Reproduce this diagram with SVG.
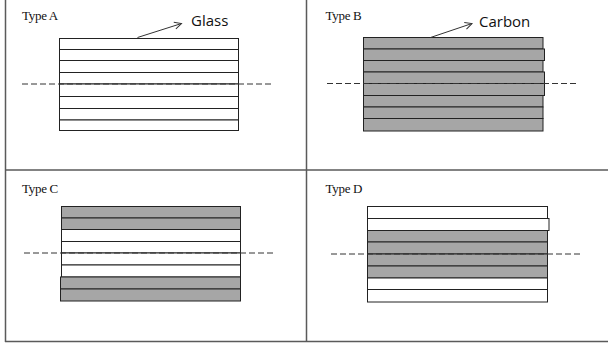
<svg xmlns="http://www.w3.org/2000/svg" width="608" height="344" viewBox="0 0 608 344">
<defs>
<marker id="ah" markerWidth="10" markerHeight="10" refX="8" refY="5" orient="auto" markerUnits="userSpaceOnUse">
<path d="M1,1.5 L8,5 L1,8.5" fill="none" stroke="#333" stroke-width="1"/>
</marker>
</defs>
<style>
.frame{stroke:#5a5a5a;stroke-width:1.5;fill:none}
.w{fill:#fff;stroke:#222;stroke-width:1}
.g{fill:#a6a6a6;stroke:#222;stroke-width:1}
.dash{stroke:#333;stroke-width:1;stroke-dasharray:6,3;fill:none}
.title{font-family:"Liberation Serif",serif;font-size:13px;letter-spacing:-0.3px;fill:#111}
.lbl{font-family:"Open Sans","Liberation Sans",sans-serif;font-size:15px;fill:#111}
.arr{stroke:#333;stroke-width:1;fill:none}
</style>
<g id="frame">
<line class="frame" x1="5.5" y1="0" x2="5.5" y2="342"/>
<line class="frame" x1="5" y1="341.5" x2="608" y2="341.5"/>
<line class="frame" x1="306.5" y1="0" x2="306.5" y2="342"/>
<line class="frame" x1="5" y1="170" x2="608" y2="170"/>
</g>
<g id="typeA">
<text class="title" x="22" y="20">Type A</text>
<rect class="w" x="59.5" y="38.5" width="179" height="11"/>
<rect class="w" x="59.5" y="49.5" width="179" height="11"/>
<rect class="w" x="59.5" y="60.5" width="179" height="12"/>
<rect class="w" x="59.5" y="72.5" width="179" height="11.5"/>
<rect class="w" x="59.5" y="84" width="179" height="12.5"/>
<rect class="w" x="59.5" y="96.5" width="179" height="12"/>
<rect class="w" x="59.5" y="108.5" width="179" height="11.5"/>
<rect class="w" x="59.5" y="120" width="179" height="10.5"/>
<line class="dash" x1="22" y1="84" x2="273" y2="84"/>
<line class="arr" x1="137.5" y1="37.5" x2="181.5" y2="23.5" marker-end="url(#ah)"/>
<text class="lbl" x="191" y="26">Glass</text>
</g>
<g id="typeB">
<text class="title" x="325.5" y="20">Type B</text>
<rect class="g" x="363.5" y="37.5" width="179.5" height="11.5"/>
<rect class="g" x="363.5" y="49" width="181" height="11.5"/>
<rect class="g" x="363.5" y="60.5" width="179.5" height="11.5"/>
<rect class="g" x="363.5" y="72" width="181" height="11.5"/>
<rect class="g" x="363.5" y="83.5" width="181" height="12"/>
<rect class="g" x="363.5" y="95.5" width="179.5" height="11.5"/>
<rect class="g" x="363.5" y="107" width="179.5" height="11.5"/>
<rect class="g" x="363.5" y="118.5" width="179.5" height="12.5"/>
<line class="dash" x1="327" y1="83.5" x2="577" y2="83.5"/>
<line class="arr" x1="430.5" y1="37.5" x2="472" y2="23.5" marker-end="url(#ah)"/>
<text class="lbl" x="479" y="27">Carbon</text>
</g>
<g id="typeC">
<text class="title" x="22" y="193">Type C</text>
<rect class="g" x="61.5" y="206.5" width="179" height="11.5"/>
<rect class="g" x="61.5" y="218" width="179" height="11.5"/>
<rect class="w" x="61.5" y="229.5" width="179" height="12"/>
<rect class="w" x="61.5" y="241.5" width="179" height="11.5"/>
<rect class="w" x="61.5" y="253" width="179" height="12"/>
<rect class="w" x="61.5" y="265" width="179" height="12"/>
<rect class="g" x="60.5" y="277" width="180" height="12"/>
<rect class="g" x="60.5" y="289" width="180" height="12"/>
<line class="dash" x1="24" y1="253" x2="275" y2="253"/>
</g>
<g id="typeD">
<text class="title" x="325.5" y="193">Type D</text>
<rect class="w" x="367.5" y="206.5" width="180" height="12"/>
<rect class="w" x="367.5" y="218.5" width="181.5" height="12"/>
<rect class="g" x="367.5" y="230.5" width="180" height="11.5"/>
<rect class="g" x="367.5" y="242" width="180" height="12"/>
<rect class="g" x="367.5" y="254" width="180" height="12"/>
<rect class="g" x="367.5" y="266" width="180" height="12"/>
<rect class="w" x="367.5" y="278" width="180" height="11.5"/>
<rect class="w" x="367.5" y="289.5" width="180" height="12.5"/>
<line class="dash" x1="331" y1="254" x2="582" y2="254"/>
</g>
</svg>
